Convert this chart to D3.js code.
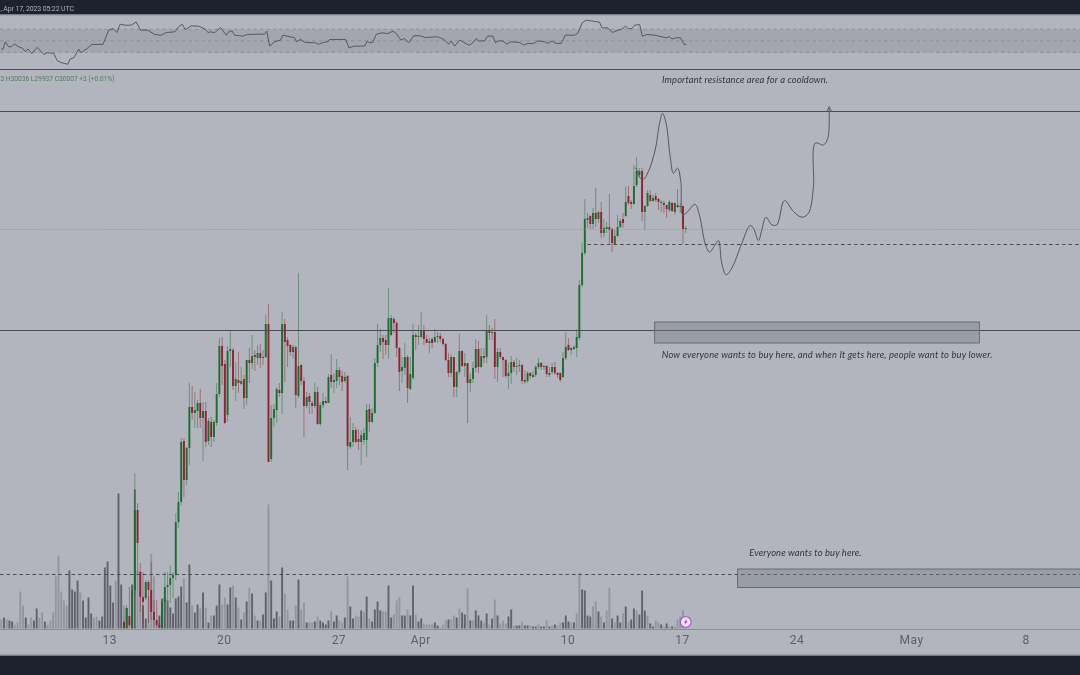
<!DOCTYPE html>
<html><head><meta charset="utf-8">
<script src="https://cdnjs.cloudflare.com/ajax/libs/d3/7.8.5/d3.min.js"></script>
<style>html,body{margin:0;padding:0;background:#b2b5be;overflow:hidden}svg{display:block;filter:blur(.3px)}</style>
</head><body><svg id="c" width="1080" height="675"></svg>
<script>
// OHLC of the 4h candles, oldest first
const candles = [
[26070,26090,26000,26010],[26010,26240,26000,26210],[26130,26420,26020,26040],[26010,26440,26000,26390],[26390,27560,26340,27190],[27190,27260,26560,26860],
[26570,26660,26170,26320],[26320,26570,26060,26270],[26310,26490,26290,26470],[26470,26490,26060,26390],[26390,26670,26090,26170],[26170,26290,26010,26090],
[26090,26290,26010,26040],[26040,26120,26010,26020],[26010,26300,26000,26270],[26270,26570,26160,26420],[26420,26570,26280,26440],[26440,26640,26260,26510],
[26510,26570,26310,26540],[26540,27160,26490,27070],[27070,27370,27010,27270],[27270,27910,27240,27870],[27880,27910,27320,27490],[27490,27820,27440,27810],
[27810,28460,27640,28220],[28220,28430,28090,28160],[28160,28370,28010,28190],[28180,28290,28010,28260],[28260,28400,28010,28110],[28110,28270,27680,28180],
[28180,28270,27820,27870],[27880,28110,27840,28080],[28070,28120,27820,27920],[27920,28090,27870,28070],[28060,28460,28030,28350],[28350,28910,28320,28830],
[28830,28920,28440,28630],[28650,28690,28050,28060],[28140,28830,28070,28780],[28780,28990,28620,28800],[28790,28810,28390,28430],[28430,28670,28280,28500],
[28490,28770,28360,28460],[28450,28620,28440,28480],[28500,28540,28200,28310],[28310,28690,28240,28690],[28690,28810,28460,28660],[28660,28940,28600,28730],
[28740,28790,28580,28720],[28710,28840,28640,28760],[28760,28850,28610,28710],[28710,28790,28640,28720],[28720,29140,28710,29050],[29050,29250,27670,27670],
[27700,28240,27670,28110],[28110,28250,28020,28200],[28190,28420,28060,28400],[28390,28460,28320,28360],[28360,29170,28150,29050],[29050,29100,28470,28870],
[28890,28920,28620,28830],[28840,28850,28730,28770],[28770,28840,28700,28820],[28820,28830,28210,28340],[28330,29560,28310,28630],[28640,28650,28440,28480],
[28480,28520,27920,28230],[28230,28370,28210,28320],[28330,28360,28150,28270],[28260,28280,28150,28230],[28230,28460,28210,28370],[28370,28420,28040,28050],
[28050,28270,28030,28240],[28240,28360,28210,28280],[28280,28320,28250,28260],[28260,28550,28260,28520],[28540,28750,28410,28470],[28470,28560,28360,28490],
[28480,28700,28410,28590],[28590,28620,28440,28520],[28530,28580,28380,28470],[28480,28570,28460,28520],[28530,28540,27590,27830],[27820,28120,27800,27870],
[27870,28060,27820,27990],[27990,28020,27860,27870],[27900,28000,27790,27870],[27870,27990,27640,27940],[27890,28010,27840,27960],[27890,28250,27720,28190],
[28200,28250,27970,28070],[28070,28210,28060,28160],[28160,28710,28150,28660],[28660,29050,28620,28840],[28840,29000,28770,28910],[28910,28940,28700,28870],
[28890,28940,28740,28840],[28840,29410,28700,29110],[28940,29140,28930,29110],[29100,29120,28960,29060],[29060,29080,28720,28810],[28810,28820,28380,28570],
[28580,28720,28460,28620],[28610,28860,28540,28720],[28720,28740,28260,28410],[28400,28720,28390,28550],[28510,29050,28490,28940],[28940,28960,28790,28920],
[28920,29040,28840,28930],[28920,29170,28910,28980],[28980,29040,28840,28900],[28900,28940,28860,28860],[28860,28910,28760,28880],[28900,28920,28810,28860],
[28870,29000,28860,28920],[28920,28970,28860,28930],[28930,28960,28870,28900],[28900,28910,28830,28850],[28850,28860,28680,28690],[28690,28760,28520,28560],
[28560,28740,28520,28720],[28720,28720,28320,28420],[28420,28580,28320,28570],[28570,28950,28550,28780],[28780,28790,28620,28630],[28630,28760,28520,28660],
[28660,28660,28060,28460],[28460,28560,28370,28500],[28500,28670,28460,28610],[28610,28900,28570,28800],[28800,28880,28560,28620],[28620,28810,28610,28730],
[28730,28810,28660,28710],[28720,29140,28660,28980],[28980,29040,28890,28960],[28960,29010,28890,28970],[28970,29100,28500,28620],[28620,28810,28470,28770],
[28770,28810,28700,28720],[28720,28720,28520,28690],[28690,28700,28510,28530],[28530,28660,28400,28560],[28560,28730,28450,28670],[28670,28690,28570,28620],
[28620,28710,28540,28630],[28630,28690,28570,28640],[28640,28650,28450,28480],[28470,28590,28450,28490],[28480,28580,28460,28560],[28560,28570,28500,28530],
[28520,28580,28510,28540],[28540,28640,28520,28620],[28620,28710,28600,28660],[28660,28670,28590,28620],[28620,28640,28590,28630],[28630,28640,28520,28550],
[28540,28620,28520,28560],[28570,28660,28550,28620],[28620,28670,28540,28560],[28560,28570,28510,28540],[28560,28560,28470,28490],[28520,28770,28510,28710],
[28710,28970,28690,28820],[28840,28910,28780,28790],[28790,28820,28740,28810],[28800,28840,28790,28820],[28810,29000,28720,28920],[28910,29490,28890,29440],
[29440,29860,29420,29760],[29760,30300,29740,30100],[30090,30160,30010,30110],[30130,30140,30000,30050],[30050,30210,30000,30160],[30160,30410,30020,30100],
[30100,30180,30060,30170],[30170,30270,29910,29960],[29960,30100,29920,30010],[30000,30070,29960,30020],[30020,30350,29840,29990],[30000,30010,29770,29860],
[29850,29990,29840,29930],[29930,30140,29920,30020],[30020,30100,30010,30080],[30100,30160,30010,30060],[30130,30420,30120,30270],[30330,30430,30240,30260],
[30270,30290,30200,30250],[30250,30640,30240,30430],[30440,30720,30420,30580],[30540,30610,30520,30580],[30580,30610,30080,30170],[30170,30240,30000,30230],
[30230,30390,30220,30360],[30340,30390,30270,30280],[30280,30340,30270,30310],[30330,30360,30270,30290],[30300,30310,30190,30270],[30260,30290,30170,30270],
[30260,30280,30160,30240],[30240,30240,30110,30200],[30190,30290,30170,30270],[30260,30270,30170,30180],[30170,30270,30140,30260],[30240,30400,30210,30220],
[30220,30260,30160,30230],[30230,30230,29850,30000],[30000,30030,29960,30010]
];
// Volume per bar, every 4h bar from the left edge
const volumes = [9,11,9,8,7,4,6,37,23,11,4,11,8,20,11,16,7,4,8,16,52,73,37,28,23,58,39,37,48,36,28,11,31,15,11,12,8,12,61,67,43,26,48,135,44,23,20,8,44,139,58,57,23,10,32,75,52,7,13,30,30,28,21,15,30,32,42,50,26,64,23,16,24,20,36,21,6,13,13,23,44,24,31,24,41,43,31,21,9,16,27,41,35,13,8,8,14,36,124,48,10,17,12,61,35,19,8,8,23,49,19,26,6,6,6,7,12,8,6,4,8,17,7,13,8,6,11,52,22,
10,13,12,18,16,32,10,7,19,27,18,17,17,43,11,14,28,31,13,13,19,13,43,14,7,10,5,4,4,4,6,3,1,4,8,9,9,13,11,20,16,14,40,8,8,18,13,8,6,15,4,10,29,13,5,8,5,12,19,3,3,3,7,3,3,3,2,2,4,2,2,8,2,3,4,3,6,6,13,7,6,6,15,56,39,38,13,12,22,27,17,12,6,18,41,10,6,13,6,15,22,7,9,20,18,14,38,18,13,5,2,8,6,4,2,5,2,2,2,9,12,18,5];
const volumeDark = [0,1,0,1,1,0,0,0,0,1,0,0,1,1,0,0,1,0,0,0,0,0,0,0,0,1,1,1,1,0,1,1,1,1,0,0,1,1,1,1,1,1,0,1,1,0,1,0,1,1,0,0,1,1,0,0,0,0,1,1,1,1,1,1,1,1,1,0,1,1,0,1,1,0,1,0,1,0,1,1,1,0,0,1,1,0,1,0,1,0,1,0,1,0,1,0,1,1,0,1,1,1,0,1,0,0,1,1,0,1,0,0,1,0,0,1,0,1,1,1,1,0,1,1,0,0,1,0,1,
1,0,0,1,0,1,0,1,1,1,1,0,0,1,1,0,0,0,1,1,0,1,1,0,1,1,0,0,0,0,1,1,0,0,0,1,0,0,1,0,1,1,0,1,0,1,1,1,0,1,0,1,0,1,0,0,0,1,1,0,1,1,0,1,1,0,1,1,0,1,1,0,1,0,1,0,0,1,1,1,0,1,0,0,1,1,1,1,0,0,1,0,1,0,0,1,0,1,1,0,1,0,1,1,0,1,1,1,0,1,1,0,0,1,0,1,0,1,0,0,0,0];
// RSI vertices: [bar number, RSI value]
const rsiPoints = [[0,35.8],[.7,35.8],[1.5,48.3],[2.7,39.8],[3.7,39.8],[4.9,44.3],[6.4,39.8],[7.9,36.9],[8.8,31.2],[9.8,35.8],[11.2,28.3],[13.2,38.6],[15.6,26.6],[16.9,29.5],[19.3,28.3],[20.5,15.8],[22,12.4],[24.4,9.5],[25.3,18.6],[26.7,20.9],[28.4,35.8],[29.3,29.5],[31.5,36.9],[33.3,43.8],[37.3,43.8],[39.4,68.3],[41,71.2],[42.4,64.3],[43.6,78.6],[45.5,76.9],[47.7,76.9],[49.5,82.6],[51.1,68.3],[53.8,68.3],[56.2,60.9],[58.7,59.7],[60.5,64.3],[63.6,65.4],[65,74],[66.4,78.6],[67.5,69.4],[69.7,75.7],[72.4,75.2],[74.8,70],[75.8,64.3],[77,65.4],[78.2,63.7],[80.4,72.9],[82.5,59.7],[83.4,65.4],[84.6,67.2],[85.6,59.7],[88.6,58],[90.2,60.9],[94.7,61.5],[96.6,61.5],[97.4,66.6],[98.4,40.9],[100.2,48.3],[102.4,51.2],[103.3,59.7],[107.6,55.2],[108.3,48.3],[109.7,52.3],[111.5,47.2],[115.2,46.6],[116.4,43.8],[118,47.2],[119.8,48.3],[120.4,52.3],[126.3,52.3],[127.5,38],[129.6,40.9],
[132,40.9],[133.3,40.9],[134.2,49.5],[135,46.6],[136.2,47.2],[137.5,60.9],[139.4,63.7],[141.8,62.6],[143.6,66.6],[144.9,62.6],[146.5,51.2],[147.9,54],[149.4,46.6],[151.3,58.6],[153.8,58.6],[155.3,55.7],[160.1,56.9],[162.3,52.3],[164.1,44.3],[165,49.5],[166.3,40.9],[168.1,51.2],[169.3,48.3],[171.4,42.6],[172.4,44.3],[174.2,54],[175.1,49.5],[177.3,50],[178.3,58],[180.3,58],[181.2,46.6],[182.4,50],[184,49.5],[185.4,44.3],[187,48.3],[190.1,47.2],[191.6,42.6],[193.2,45.5],[195.4,45.5],[196.8,50],[199.3,48.3],[200.3,45.5],[202,49.5],[203.5,45.5],[205.4,45.5],[206.8,59.7],[210.3,59.7],[211.5,63.7],[213,80.9],[214.5,85.4],[216.4,84.3],[219.4,82],[220.3,72.3],[222.5,72.3],[224.1,64.3],[226.2,68.3],[227.6,70],[228.9,75.2],[230.1,70.6],[231.3,71.2],[232.3,76.9],[234.1,78],[235.1,58],[236.8,60.9],[239.6,59.7],[243.9,55.2],[245.1,56.9],[246,52.9],[247.6,55.2],[249.1,55.2],[250.4,43.8],[251.2,43.8]];
const rsiLevels = [70,50,30];
// Hand-drawn forecast path: [bar number, price]
const forecastPath = [[232.4,30608],[232.8,30608],[234.3,30508],[235.5,30498],[237.3,30574],[239.8,30791],[241.4,31057],[242.5,31157],[243.8,31057],[245.3,30724],[246.5,30558],[248,30608],[249.2,30475],[249.9,30142],[251.4,30165],[254.4,30248],[256,30142],[258.1,29859],[259.7,29769],[261.4,29825],[263,29885],[264.2,29659],[265.8,29542],[267.9,29609],[271.6,29859],[274.6,30035],[275.8,30008],[277.7,29885],[278.9,29992],[280.4,30118],[282.6,30042],[284.4,30042],[287.2,30285],[290.5,30175],[293.6,30118],[296,30158],[297.8,30408],[298.5,30858],[301.5,30841],[303.1,30907],[303.6,31207]];
const arrowHead = [[302.7,31170],[303.6,31225],[304.6,31170]];
const solidLevels = [31175,28985];
const lastPrice = 29995;
const supportLevel = {price:29845, fromBar:215};
const lowLevel = 26545;
const zones = [{top:29070,bottom:28860,from:239.6,to:358.7},{top:26600,bottom:26415,from:270,to:400}];
const notes = [
 {text:"Important resistance area for a cooldown.",bar:242.3,price:31460,spacing:.12},
 {text:"Now everyone wants to buy here, and when It gets here, people want to buy lower.",bar:242.2,price:28710,spacing:.16},
 {text:"Everyone wants to buy here.",bar:274.3,price:26730,spacing:.12}
];
const tickDates = ["2023-03-13","2023-03-20","2023-03-27","2023-04-01","2023-04-10","2023-04-17","2023-04-24","2023-05-01","2023-05-08"];
const tickLabels = ["13","20","27","Apr","10","17","24","May","8"];
const headerText = ", Apr 17, 2023 05:22 UTC";
const legendText = "3 H30036 L29937 C30007 +3 (+0.01%)";

const W=1080,H=675, HOUR=3600e3;
const svg=d3.select("#c");
const x=d3.scaleUtc().domain([new Date("2023-03-13T00:00Z"),new Date("2023-04-17T00:00Z")]).range([110.3,683]);
const firstBar=+new Date("2023-03-06T08:00Z");
const bx=i=>x(new Date(firstBar+i*4*HOUR));
const y=d3.scaleLinear().domain([26000,31590]).range([629,70]);
const yVol=d3.scaleLinear().domain([0,139]).range([628.5,489.5]);
const yRsi=d3.scaleLinear().domain([70,30]).range([29.2,52.4]);
const GREEN="#1f6c30",RED="#8f2233",INK="#4b4d55";

svg.append("defs").append("clipPath").attr("id","pane").append("rect").attr("x",0).attr("y",70).attr("width",W).attr("height",559);
svg.append("rect").attr("width",W).attr("height",H).attr("fill","#b2b5be");
// header / footer
svg.append("rect").attr("width",W).attr("height",14.5).attr("fill","#1e222d");
svg.append("line").attr("x1",0).attr("x2",W).attr("y1",15).attr("y2",15).attr("stroke","#8f929c");
svg.append("rect").attr("y",655.5).attr("width",W).attr("height",20).attr("fill","#1e222d");
svg.append("line").attr("x1",0).attr("x2",W).attr("y1",655).attr("y2",655).attr("stroke","#878a94");
svg.append("text").attr("x",.5).attr("y",10.5).attr("textLength",73.5).attr("lengthAdjust","spacing").attr("font-family","Roboto,sans-serif").attr("font-size",7).attr("fill","#aeb1ba").text(headerText);
// RSI pane
svg.append("rect").attr("x",0).attr("width",W).attr("y",yRsi(70)).attr("height",yRsi(30)-yRsi(70)).attr("fill","#a3a6af");
svg.selectAll(".rl").data(rsiLevels).join("line").attr("x1",0).attr("x2",W).attr("y1",d=>yRsi(d)).attr("y2",d=>yRsi(d)).attr("stroke","#888b95").attr("stroke-width",.8).attr("stroke-dasharray","3.5 3");
svg.append("path").attr("d",d3.line().x(d=>bx(d[0])).y(d=>yRsi(d[1]))(rsiPoints)).attr("fill","none").attr("stroke","#4e5058").attr("stroke-width",.9);
svg.append("line").attr("x1",0).attr("x2",W).attr("y1",69.5).attr("y2",69.5).attr("stroke",INK);
svg.append("text").attr("x",.5).attr("y",80.5).attr("textLength",114).attr("lengthAdjust","spacing").attr("font-family","Roboto,sans-serif").attr("font-size",6.6).attr("fill","#4f7f5c").text(legendText);

const pane=svg.append("g").attr("clip-path","url(#pane)");
// volume
pane.selectAll(".v").data(volumes).join("rect").attr("x",(d,i)=>bx(i)-.95).attr("width",1.9)
 .attr("y",d=>yVol(d)).attr("height",d=>yVol(0)-yVol(d)).attr("fill",(d,i)=>volumeDark[i]?"#626369":"#94969f");
// candles
const off=251-(candles.length-1);
const cg=pane.selectAll(".c").data(candles).join("g");
cg.append("line").attr("x1",(d,i)=>bx(i+off)).attr("x2",(d,i)=>bx(i+off)).attr("y1",d=>y(d[1])).attr("y2",d=>y(d[2]))
 .attr("stroke",d=>d[3]>=d[0]?GREEN:RED).attr("stroke-width",.95).attr("stroke-opacity",.5);
cg.append("rect").attr("x",(d,i)=>bx(i+off)-.95).attr("width",1.9)
 .attr("y",d=>y(Math.max(d[0],d[3]))).attr("height",d=>Math.max(.9,Math.abs(y(d[0])-y(d[3]))))
 .attr("fill",d=>d[3]>=d[0]?GREEN:RED);
// levels
pane.selectAll(".s").data(solidLevels).join("line").attr("x1",0).attr("x2",W).attr("y1",d=>y(d)).attr("y2",d=>y(d)).attr("stroke",INK).attr("stroke-width",1);
pane.append("line").attr("x1",0).attr("x2",W).attr("y1",y(lastPrice)).attr("y2",y(lastPrice)).attr("stroke","#8d9099").attr("stroke-width",.9).attr("stroke-dasharray","1 1.6");
pane.append("line").attr("x1",bx(supportLevel.fromBar)).attr("x2",W).attr("y1",y(supportLevel.price)).attr("y2",y(supportLevel.price)).attr("stroke",INK).attr("stroke-dasharray","3.5 3");
pane.append("line").attr("x1",0).attr("x2",W).attr("y1",y(lowLevel)).attr("y2",y(lowLevel)).attr("stroke",INK).attr("stroke-dasharray","3.5 3");
// zones
pane.selectAll(".z").data(zones).join("rect").attr("x",d=>bx(d.from)).attr("width",d=>bx(d.to)-bx(d.from)).attr("y",d=>y(d.top)).attr("height",d=>y(d.bottom)-y(d.top))
 .attr("fill","#787b86").attr("fill-opacity",.42).attr("stroke","#6a6d78").attr("stroke-width",1);
// forecast
const curve=d3.line().x(d=>bx(d[0])).y(d=>y(d[1])).curve(d3.curveCatmullRom.alpha(.5));
pane.append("path").attr("d",curve(forecastPath)).attr("fill","none").attr("stroke","#55575f").attr("stroke-width",1);
pane.append("path").attr("d",d3.line().x(d=>bx(d[0])).y(d=>y(d[1]))(arrowHead)).attr("fill","none").attr("stroke","#55575f").attr("stroke-width",.9);
// notes
pane.selectAll(".n").data(notes).join("text").attr("x",d=>bx(d.bar)).attr("y",d=>y(d.price)).text(d=>d.text)
 .attr("font-family","Lato,sans-serif").attr("font-style","italic").attr("font-size",9.4).attr("letter-spacing",d=>d.spacing).attr("fill","#33353c");
// flash icon on last bar
const ix=bx(251),iy=622;
svg.append("circle").attr("cx",ix).attr("cy",iy).attr("r",5.4).attr("fill","#ece6f0").attr("stroke","#b45bd0").attr("stroke-width",1.3);
svg.append("path").attr("transform",`translate(${ix},${iy})`).attr("d","M1.4,-3.2 L-2,0.6 L-0.3,0.6 L-1.2,3.2 L2,-0.7 L0.3,-0.7 Z").attr("fill","#a94cc8");
// time axis
const axis=d3.axisBottom(x).tickValues(tickDates.map(d=>new Date(d+"T00:00Z"))).tickFormat((d,i)=>tickLabels[i]).tickSize(0).tickPadding(6);
const ag=svg.append("g").attr("transform","translate(0,629)").call(axis);
ag.select(".domain").attr("stroke","#8b8e98").attr("d","M0,0.5H1080");
ag.selectAll("text").attr("font-family","Roboto,sans-serif").attr("font-size",12).attr("letter-spacing",.5).attr("fill","#5d606b").attr("dx",-1);
</script></body></html>
